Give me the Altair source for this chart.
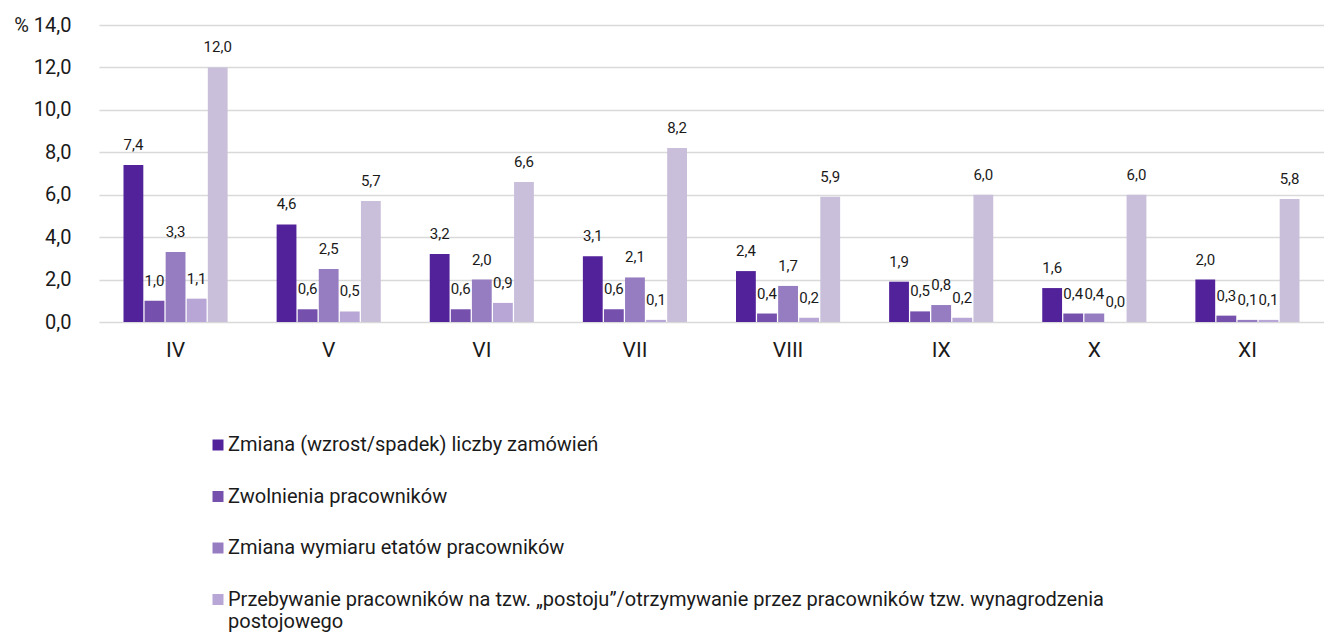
import altair as alt
import pandas as pd

months = ["IV", "V", "VI", "VII", "VIII", "IX", "X", "XI"]
series_names = [
    "Zmiana (wzrost/spadek) liczby zamówień",
    "Zwolnienia pracowników",
    "Zmiana wymiaru etatów pracowników",
    "Przebywanie pracowników na tzw. „postoju”/otrzymywanie przez pracowników tzw. wynagrodzenia postojowego",
    "Pozostałe",
]
colors = ["#52229a", "#7550ad", "#967cc0", "#b7a6d6", "#c9bfdb"]

s1 = [7.4, 4.6, 3.2, 3.1, 2.4, 1.9, 1.6, 2.0]
s2 = [1.0, 0.6, 0.6, 0.6, 0.4, 0.5, 0.4, 0.3]
s3 = [3.3, 2.5, 2.0, 2.1, 1.7, 0.8, 0.4, 0.1]
s4 = [1.1, 0.5, 0.9, 0.1, 0.2, 0.2, 0.0, 0.1]
s5 = [12.0, 5.7, 6.6, 8.2, 5.9, 6.0, 6.0, 5.8]

rows = []
for name, vals in zip(series_names, [s1, s2, s3, s4, s5]):
    for m, v in zip(months, vals):
        rows.append({"month": m, "series": name, "value": v})
df = pd.DataFrame(rows)

FONT = "Roboto"

base = alt.Chart(df).encode(
    x=alt.X(
        "month:N",
        sort=months,
        scale=alt.Scale(paddingInner=0.32, paddingOuter=0.16),
        axis=alt.Axis(
            title=None, labelAngle=0, labelFontSize=21, ticks=False, domain=False,
            labelPadding=17, labelColor="#1a1a1a", labelFont=FONT, grid=False,
        ),
    ),
    xOffset=alt.XOffset("series:N", sort=series_names, scale=alt.Scale(paddingInner=0.06)),
)

bars = base.mark_bar().encode(
    y=alt.Y(
        "value:Q",
        scale=alt.Scale(domain=[0, 14], nice=False),
        axis=alt.Axis(
            title=None, values=[0, 2, 4, 6, 8, 10, 12, 14], ticks=False, domain=False,
            gridColor="#d9d9d9", gridWidth=1.5, labelFontSize=20, labelPadding=28,
            labelColor="#1a1a1a", labelFont=FONT,
            labelExpr="datum.value == 14 ? '% 14,0' : replace(format(datum.value, '.1f'), '.', ',')",
        ),
    ),
    color=alt.Color(
        "series:N",
        sort=series_names,
        scale=alt.Scale(domain=series_names, range=colors),
        legend=alt.Legend(
            values=series_names[:4], title=None, orient="none", legendX=109, legendY=410,
            direction="vertical", symbolType="square", symbolSize=121, symbolStrokeWidth=0,
            labelFontSize=20, labelFont=FONT, labelColor="#1a1a1a", labelLimit=1300,
            rowPadding=31.5, labelOffset=0,
            labelExpr="substring(datum.label, 0, 11) == 'Przebywanie' ? ['Przebywanie pracowników na tzw. „postoju”/otrzymywanie przez pracowników tzw. wynagrodzenia', 'postojowego'] : datum.label",
        ),
    ),
)

labels = base.transform_calculate(
    lab="replace(format(datum.value, '.1f'), '.', ',')"
).mark_text(dy=-20, fontSize=15, font=FONT, color="#1a1a1a", baseline="middle").encode(
    y=alt.Y("value:Q"),
    text="lab:N",
)

chart = (
    alt.layer(bars, labels)
    .properties(width=1225, height=297, padding={"left": 5, "top": 7, "right": 0, "bottom": 0})
    .configure_view(stroke=None)
)

chart.save("out.html", embed_options={"renderer": "svg", "actions": False})
